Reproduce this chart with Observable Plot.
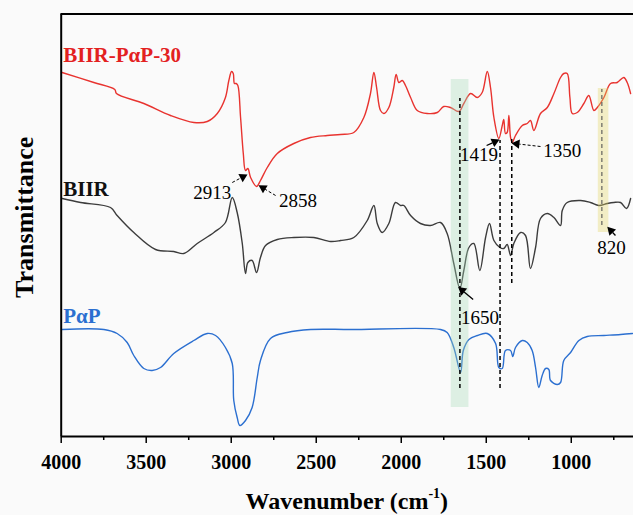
<!DOCTYPE html>
<html>
<head>
<meta charset="utf-8">
<script src="https://cdn.jsdelivr.net/npm/d3@7"></script>
<script src="https://cdn.jsdelivr.net/npm/@observablehq/plot@0.6"></script>
<style>
  html, body { margin: 0; padding: 0; background: #fafafa; }
  #chart { width: 633px; height: 515px; position: relative; overflow: hidden; }
  #chart svg { display: block; }
  #xlabel { position: absolute; left: 60.7px; width: 572.3px; top: 487px; height: 28px; line-height: 28px;
            text-align: center; font-family: "Liberation Serif", serif; font-weight: bold; font-size: 24px; color: #000; }
  #xlabel sup { font-size: 14px; line-height: 0; position: relative; top: -2px; }
</style>
</head>
<body>
<div id="chart"></div>
<script>
// ---------------- data ----------------
const redWn = [3995,3808,3685,3675,3514,3357,3220,3141,3082,3034,3014,2998,2988,2981,2971,2961,2945,2929,2916,2902,2886,2851,2828,2788,2729,2632,2534,2435,2357,2279,2220,2181,2161,2145,2122,2102,2073,2044,2030,2014,1994,1975,1945,1906,1847,1788,1750,1710,1661,1632,1592,1553,1524,1494,1475,1455,1426,1406,1397,1387,1377,1367,1357,1347,1328,1288,1259,1240,1220,1181,1141,1102,1063,1044,1024,1008,994,965,926,897,867,847,808,769,730,691,671,651];
const redT  = [364,354,347,343,333,321,314,315,323,339,356,365,363,353,353,351,319,283,266,268,259,250,256,269,283,293,299,301,302,304,319,343,364,349,326,323,329,349,362,354,356,351,339,326,323,324,330,329,325,333,343,339,344,365,349,319,298,311,317,303,304,321,299,294,301,311,313,316,306,323,329,343,359,363,363,339,323,324,333,341,326,329,339,353,354,359,354,343];

const blackWn = [3994,3886,3710,3671,3573,3445,3338,3279,3200,3102,3034,2994,2965,2935,2916,2902,2877,2851,2828,2798,2729,2632,2514,2416,2357,2279,2200,2161,2141,2112,2073,2034,2004,1985,1945,1887,1828,1769,1730,1691,1655,1632,1602,1573,1538,1504,1481,1455,1420,1397,1377,1357,1338,1298,1269,1240,1210,1181,1141,1102,1063,1053,1024,945,887,838,788,750,710,675,651];
const blackT  = [238,234,229,221,204,187,185,183,193,204,214,239,224,193,163,174,176,164,179,191,197,199,199,195,196,199,216,231,213,204,213,234,231,231,221,213,211,214,203,173,148,166,189,193,166,199,213,196,189,188,192,181,193,204,201,168,189,218,223,219,211,226,234,236,234,231,233,234,234,228,238];

const blueWn = [3994,3749,3671,3612,3573,3514,3465,3416,3338,3220,3141,3092,3034,2994,2985,2965,2949,2916,2877,2847,2828,2769,2671,2534,2298,1769,1730,1691,1651,1635,1602,1553,1494,1445,1426,1406,1387,1357,1344,1328,1288,1259,1230,1210,1191,1171,1151,1132,1122,1082,1063,1044,1004,955,906,808,710,640];
const blueT  = [107,107,103,94,81,68,66,69,83,96,103,101,89,73,36,19,11,16,29,59,76,98,104,107,107,107,104,89,64,86,97,101,103,93,69,68,86,86,80,89,96,94,86,69,49,61,68,67,56,52,54,76,84,96,100,101,102,103];

const seriesNames  = ["BIIR-P\u03b1P-30", "BIIR", "P\u03b1P"];
const seriesColors = ["#e8332f", "#3c3c3c", "#2b6fd0"];
const labelColors  = ["#e3211f", "#111111", "#2b6fd0"];
const seriesLabelX = [3988, 3988, 3988];
const seriesLabelY = [381, 247.5, 120.5];

const majorTicks = [4000, 3500, 3000, 2500, 2000, 1500, 1000];
const minorTicks = [3750, 3250, 2750, 2250, 1750, 1250, 750];

const peakText = ["2913", "2858", "1419", "1350", "1650", "820"];
const peakTextX = [3112, 2607, 1543, 1053, 1537, 763];
const peakTextY = [244, 236, 282, 286, 119, 188.5];
// arrows: tail -> tip
const arrowX1 = [2994, 2739, 1498, 1181, 1577, 740];
const arrowY1 = [254, 241, 291, 290, 137, 201];
const arrowX2 = [2916, 2828, 1434, 1338, 1655, 779];
const arrowY2 = [261, 250, 296, 293, 148, 208];
const arrowDashed = [true, true, false, true, false, false];

const dashX = [1655, 1419, 1350, 820];
const dashTop = [338, 296, 299, 347];
const dashBottom = [48, 48, 153, 211];
const dashColor = ["#000", "#000", "#000", "#555"];

const bandX1 = [1706, 841];
const bandX2 = [1602, 779];
const bandTop = [357, 348];
const bandBottom = [29, 204];
const bandColor = ["rgb(166,218,183)", "rgb(226,212,98)"];

// ---------------- build tables ----------------
const W = 633, H = 487;
const mL = 60.7, mR = 0, mT = 13.5, mB = 51;
const xDomain = [4000, 634];
const yDomain = [0, 422.5];

const toRows = (wn, t) => wn.map((w, i) => ({wn: w, t: t[i]}));
const spectra = [toRows(redWn, redT), toRows(blackWn, blackT), toRows(blueWn, blueT)];
const labels = seriesNames.map((s, i) => ({text: s, x: seriesLabelX[i], y: seriesLabelY[i], color: labelColors[i]}));
const peaks = peakText.map((s, i) => ({text: s, x: peakTextX[i], y: peakTextY[i]}));
const dashes = dashX.map((x, i) => ({x, y1: dashBottom[i], y2: dashTop[i], c: dashColor[i], w: i === 3 ? 1.1 : 1.5}));
const bands = bandX1.map((x1, i) => ({x1, x2: bandX2[i], y1: bandBottom[i], y2: bandTop[i], c: bandColor[i]}));

const sx = d3.scaleLinear(xDomain, [mL, W - mR]);
const sy = d3.scaleLinear(yDomain, [H - mB, mT]);
const arrows = arrowX1.map((x1, i) => {
  const px1 = sx(x1), py1 = sy(arrowY1[i]), px2 = sx(arrowX2[i]), py2 = sy(arrowY2[i]);
  const dx = px2 - px1, dy = py2 - py1, len = Math.hypot(dx, dy);
  const ux = dx / len, uy = dy / len;
  const hx = px2 - ux * 3.0, hy = py2 - uy * 3.0;
  const bx = px2 - ux * 5.5, by = py2 - uy * 5.5;
  return {
    x1, y1: arrowY1[i],
    bx: sx.invert(bx), by: sy.invert(by),
    hx: sx.invert(hx), hy: sy.invert(hy),
    angle: Math.atan2(ux, -uy) * 180 / Math.PI,
    dashed: arrowDashed[i]
  };
});

const marks = [];
spectra.forEach((rows, i) => {
  marks.push(Plot.line(rows, {x: "wn", y: "t", stroke: seriesColors[i], strokeWidth: 1.4, curve: "catmull-rom"}));
});
marks.push(Plot.rect(bands, {x1: "x1", x2: "x2", y1: "y1", y2: "y2", fill: "c", fillOpacity: 0.35}));
marks.push(Plot.ruleX(dashes, {x: "x", y1: "y1", y2: "y2", stroke: "c", strokeWidth: "w", strokeDasharray: "4,3"}));
marks.push(Plot.link(arrows.filter(d => d.dashed), {x1: "x1", y1: "y1", x2: "bx", y2: "by", stroke: "#000", strokeWidth: 1, strokeDasharray: "3,2"}));
marks.push(Plot.link(arrows.filter(d => !d.dashed), {x1: "x1", y1: "y1", x2: "bx", y2: "by", stroke: "#000", strokeWidth: 1.3}));
marks.push(Plot.dot(arrows, {x: "hx", y: "hy", symbol: "triangle", r: 3.4, fill: "#000", stroke: "none", rotate: "angle"}));
marks.push(Plot.text(peaks, {x: "x", y: "y", text: "text", fontSize: 19, fill: "#000", textAnchor: "middle"}));
marks.push(Plot.text(labels, {x: "x", y: "y", text: "text", fill: "color", fontSize: 21, fontWeight: "bold", textAnchor: "start"}));
// frame
marks.push(Plot.ruleY([yDomain[0], yDomain[1]], {stroke: "#000", strokeWidth: 2}));
marks.push(Plot.ruleX([xDomain[0]], {stroke: "#000", strokeWidth: 2}));
// axes
marks.push(Plot.axisX(majorTicks, {anchor: "bottom", tickSize: 7, tickPadding: 11, fontSize: 20, fontWeight: "bold", label: null, strokeWidth: 1.5, fill: "#000", tickFormat: d => String(d)}));
marks.push(Plot.axisX(minorTicks, {anchor: "bottom", tickSize: 4, tickFormat: () => "", label: null, strokeWidth: 1.5}));
// y title
marks.push(Plot.text(["Transmittance"], {text: d => d, frameAnchor: "left", dx: -36.7, dy: -8, rotate: -90, fontSize: 26, fontWeight: "bold", fill: "#000", textAnchor: "middle"}));

const chart = Plot.plot({
  width: W, height: H,
  marginLeft: mL, marginRight: mR, marginTop: mT, marginBottom: mB,
  x: {domain: xDomain, axis: null},
  y: {domain: yDomain, axis: null},
  style: {fontFamily: "'Liberation Serif', 'Times New Roman', serif", background: "transparent", overflow: "visible"},
  marks
});
const holder = document.getElementById("chart");
holder.appendChild(chart);
const xl = document.createElement("div");
xl.id = "xlabel";
xl.innerHTML = "Wavenumber (cm<sup>-1</sup>)";
holder.appendChild(xl);
</script>
</body>
</html>
